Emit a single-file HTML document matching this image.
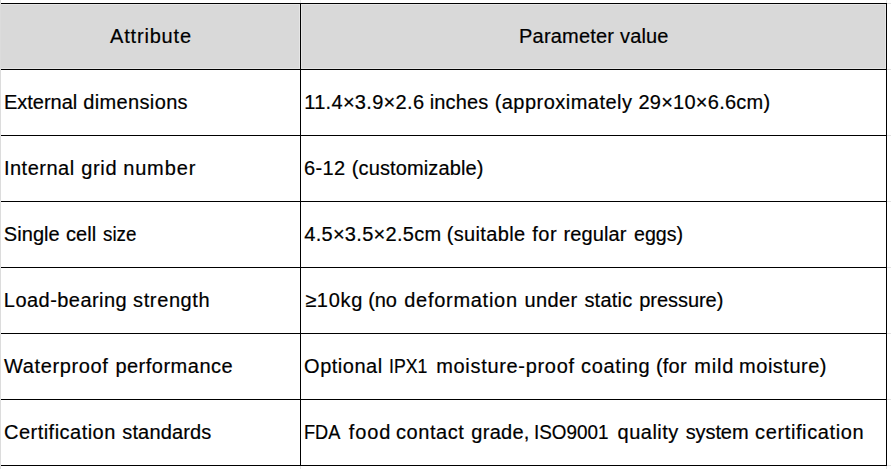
<!DOCTYPE html>
<html><head><meta charset="utf-8"><style>
*{margin:0;padding:0;box-sizing:border-box}
html,body{width:891px;height:469px;overflow:hidden;background:#fff}
body{position:relative;font-family:"Liberation Sans",sans-serif;font-size:20px;color:#000}
.a{position:absolute}
.t{position:absolute;white-space:nowrap;line-height:20px;height:20px;-webkit-text-stroke:0.2px #000}
</style></head>
<body>
<div class="a" style="left:0;top:0;width:1px;height:469px;background:#dcdcdc"></div>
<div class="a" style="left:300px;top:0;width:1px;height:3px;background:#e3e3e3"></div>
<div class="a" style="left:300px;top:466px;width:1px;height:3px;background:#e3e3e3"></div>
<div class="a" style="left:886px;top:0;width:1px;height:3px;background:#e3e3e3"></div>
<div class="a" style="left:886px;top:466px;width:1px;height:3px;background:#e3e3e3"></div>
<div class="a" style="left:887px;top:3px;width:4px;height:1px;background:#e3e3e3"></div>
<div class="a" style="left:887px;top:69px;width:4px;height:1px;background:#e3e3e3"></div>
<div class="a" style="left:887px;top:135px;width:4px;height:1px;background:#e3e3e3"></div>
<div class="a" style="left:887px;top:201px;width:4px;height:1px;background:#e3e3e3"></div>
<div class="a" style="left:887px;top:267px;width:4px;height:1px;background:#e3e3e3"></div>
<div class="a" style="left:887px;top:333px;width:4px;height:1px;background:#e3e3e3"></div>
<div class="a" style="left:887px;top:399px;width:4px;height:1px;background:#e3e3e3"></div>
<div class="a" style="left:887px;top:465px;width:4px;height:1px;background:#e3e3e3"></div>
<div class="a" style="left:1px;top:4px;width:885px;height:65px;background:#d9d9d9"></div>
<div class="a" style="left:1px;top:4px;width:885px;height:1px;background:#e6e6e6"></div>
<div class="a" style="left:1px;top:68px;width:885px;height:1px;background:#e6e6e6"></div>
<div class="a" style="left:299px;top:4px;width:1px;height:65px;background:#e6e6e6"></div>
<div class="a" style="left:301px;top:4px;width:1px;height:65px;background:#e6e6e6"></div>
<div class="a" style="left:885px;top:4px;width:1px;height:65px;background:#e6e6e6"></div>
<div class="a" style="left:1px;top:3px;width:886px;height:1px;background:#000"></div>
<div class="a" style="left:1px;top:69px;width:886px;height:1px;background:#000"></div>
<div class="a" style="left:1px;top:135px;width:886px;height:1px;background:#000"></div>
<div class="a" style="left:1px;top:201px;width:886px;height:1px;background:#000"></div>
<div class="a" style="left:1px;top:267px;width:886px;height:1px;background:#000"></div>
<div class="a" style="left:1px;top:333px;width:886px;height:1px;background:#000"></div>
<div class="a" style="left:1px;top:399px;width:886px;height:1px;background:#000"></div>
<div class="a" style="left:1px;top:465px;width:886px;height:1px;background:#000"></div>
<div class="a" style="left:300px;top:3px;width:1px;height:463px;background:#000"></div>
<div class="a" style="left:886px;top:3px;width:1px;height:463px;background:#000"></div>
<div class="t" style="left:109.99px;top:26px;letter-spacing:0.826px">Attribute</div>
<div class="t" style="left:519.05px;top:26px;letter-spacing:0.201px">Parameter</div>
<div class="t" style="left:620.07px;top:26px;letter-spacing:0.134px">value</div>
<div class="t" style="left:3.97px;top:92px;letter-spacing:-0.015px">External</div>
<div class="t" style="left:83.22px;top:92px;letter-spacing:0.360px">dimensions</div>
<div class="t" style="left:304.21px;top:92px;letter-spacing:0.310px">11.4×3.9×2.6</div>
<div class="t" style="left:429.71px;top:92px;letter-spacing:0.156px">inches</div>
<div class="t" style="left:494.63px;top:92px;letter-spacing:0.476px">(approximately</div>
<div class="t" style="left:638.42px;top:92px;letter-spacing:0.254px">29×10×6.6cm)</div>
<div class="t" style="left:3.96px;top:158px;letter-spacing:0.496px">Internal</div>
<div class="t" style="left:81.14px;top:158px;letter-spacing:0.701px">grid</div>
<div class="t" style="left:123.15px;top:158px;letter-spacing:0.868px">number</div>
<div class="t" style="left:304.04px;top:158px;letter-spacing:0.317px">6-12</div>
<div class="t" style="left:351.85px;top:158px;letter-spacing:0.120px">(customizable)</div>
<div class="t" style="left:3.77px;top:224px;letter-spacing:0.072px">Single</div>
<div class="t" style="left:66.01px;top:224px;letter-spacing:0.083px">cell</div>
<div class="t" style="left:103.32px;top:224px;transform:scaleX(0.9401);transform-origin:0 0">size</div>
<div class="t" style="left:304.23px;top:224px;letter-spacing:0.291px">4.5×3.5×2.5cm</div>
<div class="t" style="left:446.63px;top:224px;letter-spacing:0.373px">(suitable</div>
<div class="t" style="left:532.24px;top:224px;letter-spacing:0.504px">for</div>
<div class="t" style="left:563.54px;top:224px;letter-spacing:0.104px">regular</div>
<div class="t" style="left:634.03px;top:224px;transform:scaleX(0.9792);transform-origin:0 0">eggs)</div>
<div class="t" style="left:3.86px;top:290px;letter-spacing:0.453px">Load-bearing</div>
<div class="t" style="left:133.08px;top:290px;letter-spacing:0.615px">strength</div>
<div class="t" style="left:305.13px;top:290px;letter-spacing:0.740px">≥10kg</div>
<div class="t" style="left:368.17px;top:290px;letter-spacing:-0.077px">(no</div>
<div class="t" style="left:404.23px;top:290px;letter-spacing:0.719px">deformation</div>
<div class="t" style="left:524.46px;top:290px;letter-spacing:0.416px">under</div>
<div class="t" style="left:584.41px;top:290px;letter-spacing:0.212px">static</div>
<div class="t" style="left:639.19px;top:290px;letter-spacing:-0.042px">pressure)</div>
<div class="t" style="left:3.97px;top:356px;letter-spacing:0.636px">Waterproof</div>
<div class="t" style="left:115.39px;top:356px;letter-spacing:0.498px">performance</div>
<div class="t" style="left:304.11px;top:356px;letter-spacing:0.501px">Optional</div>
<div class="t" style="left:388.89px;top:356px;transform:scaleX(0.8850);transform-origin:0 0">IPX1</div>
<div class="t" style="left:436.15px;top:356px;letter-spacing:0.691px">moisture-proof</div>
<div class="t" style="left:581.12px;top:356px;letter-spacing:0.659px">coating</div>
<div class="t" style="left:655.91px;top:356px;letter-spacing:0.245px">(for</div>
<div class="t" style="left:694.35px;top:356px;letter-spacing:0.813px">mild</div>
<div class="t" style="left:739.12px;top:356px;letter-spacing:0.509px">moisture)</div>
<div class="t" style="left:4.03px;top:422px;letter-spacing:0.476px">Certification</div>
<div class="t" style="left:122.27px;top:422px;letter-spacing:0.151px">standards</div>
<div class="t" style="left:304.36px;top:422px;transform:scaleX(0.9092);transform-origin:0 0">FDA</div>
<div class="t" style="left:348.75px;top:422px;letter-spacing:0.917px">food</div>
<div class="t" style="left:396.01px;top:422px;letter-spacing:0.574px">contact</div>
<div class="t" style="left:471.36px;top:422px;letter-spacing:0.250px">grade,</div>
<div class="t" style="left:534.35px;top:422px;transform:scaleX(0.9436);transform-origin:0 0">ISO9001</div>
<div class="t" style="left:617.50px;top:422px;letter-spacing:0.502px">quality</div>
<div class="t" style="left:685.67px;top:422px;letter-spacing:-0.089px">system</div>
<div class="t" style="left:755.12px;top:422px;letter-spacing:0.611px">certification</div>
</body></html>
